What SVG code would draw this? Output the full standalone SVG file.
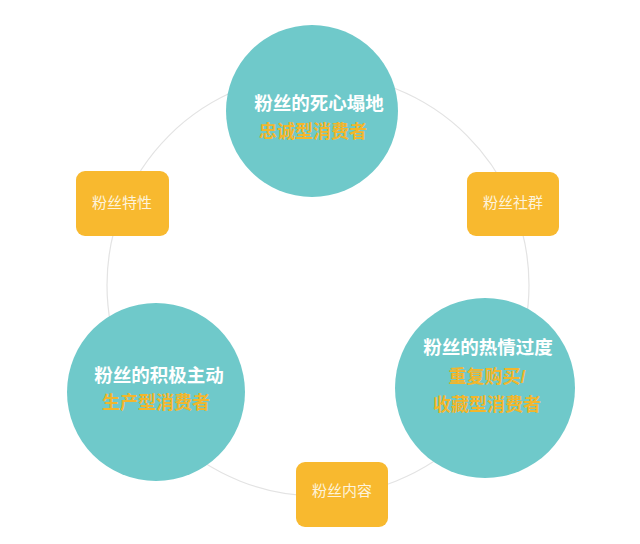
<svg xmlns="http://www.w3.org/2000/svg" width="640" height="544" viewBox="0 0 640 544">
<style>
.ring{fill:none;stroke:#e3e3e3;stroke-width:1.2}
.big{fill:#6fc9ca}
.box{fill:#f8b92f}
.t{font-family:"Liberation Sans","Noto Sans CJK SC",sans-serif;text-anchor:middle}
.w{fill:#ffffff;font-size:18.5px;font-weight:bold}
.o{fill:#f3b62b;font-size:18px;font-weight:bold}
.b{fill:#fdf3dc;font-size:15px}
</style>
<rect width="640" height="544" fill="#ffffff"/>
<g id="connectors">
<circle class="ring" cx="318" cy="285" r="211"/>
</g>
<g id="node-top">
<circle class="big" cx="312" cy="111" r="86"/>
<text class="t w" x="319" y="110">粉丝的死心塌地</text>
<text class="t o" x="313" y="138">忠诚型消费者</text>
</g>
<g id="node-left">
<circle class="big" cx="156" cy="392" r="89"/>
<text class="t w" x="159" y="382">粉丝的积极主动</text>
<text class="t o" x="156" y="409">生产型消费者</text>
</g>
<g id="node-right">
<circle class="big" cx="485" cy="388" r="90"/>
<text class="t w" x="488" y="354">粉丝的热情过度</text>
<text class="t o" x="487" y="383">重复购买/</text>
<text class="t o" x="487" y="411">收藏型消费者</text>
</g>
<g id="box-left">
<rect class="box" x="76" y="171" width="93" height="65" rx="9"/>
<text class="t b" x="122" y="208">粉丝特性</text>
</g>
<g id="box-right">
<rect class="box" x="467" y="172" width="92" height="64" rx="9"/>
<text class="t b" x="513" y="208">粉丝社群</text>
</g>
<g id="box-bottom">
<rect class="box" x="296" y="462" width="92" height="65" rx="9"/>
<text class="t b" x="342" y="496">粉丝内容</text>
</g>
</svg>
